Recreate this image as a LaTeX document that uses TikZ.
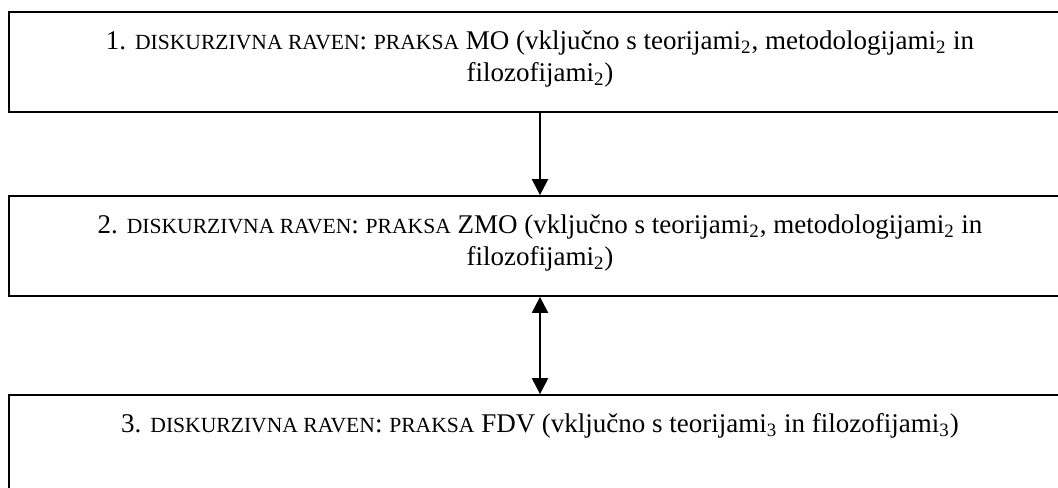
\documentclass[tikz,border=0pt]{standalone}
\usepackage{fontspec}
\setmainfont{Liberation Serif}
\usetikzlibrary{positioning,arrows.meta}
\newcommand{\capsmall}[1]{{\fontsize{10.8}{16}\selectfont #1}}
\begin{document}
\begin{tikzpicture}[x=0.5pt,y=-0.5pt,
            levelbox/.style={draw,line width=0.9pt,minimum width=531pt,minimum height=50pt,inner sep=0pt},
            leveltext/.style={align=center,inner sep=0pt,font=\fontsize{13.5}{16}\selectfont},
            link/.style={line width=1.2pt,-{Triangle[width=8pt,length=8pt]}},
            both/.style={line width=1.2pt,{Triangle[width=8pt,length=8pt]}-{Triangle[width=8pt,length=8pt]}}]
            \clip (0,0) rectangle (1058,487);
            \node (lvl1) at (540,62) [levelbox] {};
            \node (lvl2) at (540,246) [levelbox] {};
            \node (lvl3) at (540,445) [levelbox] {};
            \node (txt1) [leveltext,below=9.5pt of lvl1.north] {1. \capsmall{DISKURZIVNA RAVEN}: \capsmall{PRAKSA} MO (vključno s teorijami\textsubscript{2}, metodologijami\textsubscript{2} in\\filozofijami\textsubscript{2})};
            \node (txt2) [leveltext,below=9.5pt of lvl2.north] {2. \capsmall{DISKURZIVNA RAVEN}: \capsmall{PRAKSA} ZMO (vključno s teorijami\textsubscript{2}, metodologijami\textsubscript{2} in\\filozofijami\textsubscript{2})};
            \node (txt3) [leveltext,below=9.5pt of lvl3.north] {3. \capsmall{DISKURZIVNA RAVEN}: \capsmall{PRAKSA} FDV (vključno s teorijami\textsubscript{3} in filozofijami\textsubscript{3})};
            \draw[link] (lvl1.south) -- (lvl2.north);
            \draw[both] (lvl2.south) -- (lvl3.north);
        \end{tikzpicture}
\end{document}
